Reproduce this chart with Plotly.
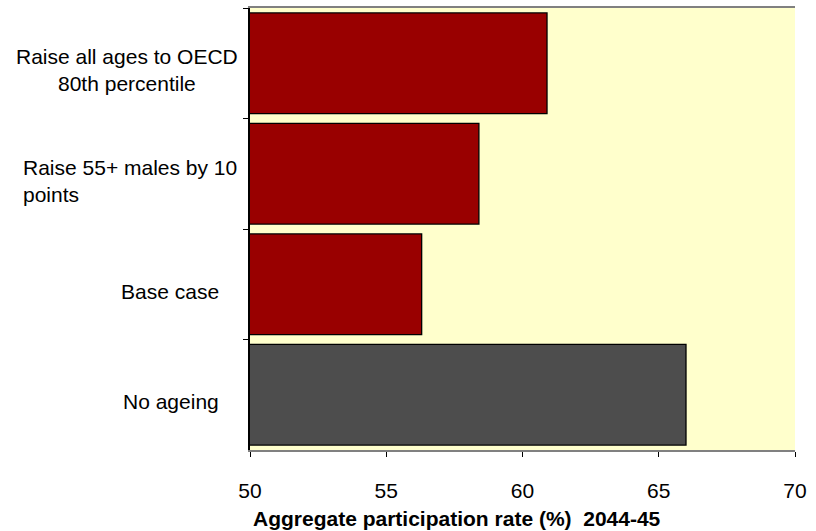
import plotly.graph_objects as go

# Scenario labels (top to bottom) and aggregate participation rates, 2044-45
scenarios = [
    "Raise all ages to OECD 80th percentile",
    "Raise 55+ males by 10 points",
    "Base case",
    "No ageing",
]
label_lines = [
    "Raise all ages to OECD<br>80th percentile",
    "Raise 55+ males by 10<br>points",
    "Base case",
    "No ageing",
]
label_align = ["center", "left", "right", "right"]
label_right_px = [240, 239, 221, 221]
participation = [60.9, 58.4, 56.3, 66.0]
bar_colors = ["#990000", "#990000", "#990000", "#4D4D4D"]

x_ticks = [50, 55, 60, 65, 70]

FONT = "Liberation Sans, Arial, sans-serif"
W, H = 816, 531
M_L, M_R, M_T, M_B = 250, 21, 6, 81
plot_w = W - M_L - M_R

fig = go.Figure(
    go.Bar(
        x=participation,
        y=scenarios,
        orientation="h",
        marker=dict(color=bar_colors, line=dict(color="black", width=1.3)),
        hoverinfo="x+y",
    )
)

annotations = []
for cat, txt, al, rpx in zip(scenarios, label_lines, label_align, label_right_px):
    annotations.append(
        dict(
            x=(rpx - M_L) / plot_w,
            xref="paper",
            y=cat,
            yref="y",
            yshift=-7,
            text=txt,
            align=al,
            xanchor="right",
            yanchor="middle",
            showarrow=False,
            font=dict(family=FONT, size=21, color="black"),
        )
    )

# x-axis title sits left of the plot centre
annotations.append(
    dict(
        x=(457 - M_L) / plot_w,
        xref="paper",
        y=-(519 - (H - M_B)) / (H - M_T - M_B),
        yref="paper",
        text="<b>Aggregate participation rate (%)  2044-45</b>",
        xanchor="center",
        yanchor="middle",
        showarrow=False,
        font=dict(family=FONT, size=21, color="black"),
    )
)

fig.update_layout(
    width=W,
    height=H,
    margin=dict(l=M_L, r=M_R, t=M_T, b=M_B, pad=0),
    paper_bgcolor="white",
    plot_bgcolor="#FFFFCC",
    bargap=0.09,
    showlegend=False,
    font=dict(family=FONT, size=21, color="black"),
    annotations=annotations,
    xaxis=dict(
        range=[50, 70],
        tickvals=x_ticks,
        ticktext=[str(v) for v in x_ticks],
        ticks="outside",
        ticklen=5,
        tickcolor="black",
        tickwidth=1,
        ticklabelstandoff=16,
        showgrid=False,
        zeroline=False,
        showline=True,
        linecolor="#808080",
        linewidth=1.5,
        mirror=True,
        tickfont=dict(family=FONT, size=21, color="black"),
    ),
    yaxis=dict(
        categoryorder="array",
        categoryarray=scenarios,
        autorange="reversed",
        ticks="outside",
        tickson="boundaries",
        ticklen=5,
        tickcolor="black",
        showticklabels=False,
        showgrid=False,
        zeroline=False,
        showline=True,
        linecolor="black",
        linewidth=1.5,
    ),
)

fig.write_html("out.html")
